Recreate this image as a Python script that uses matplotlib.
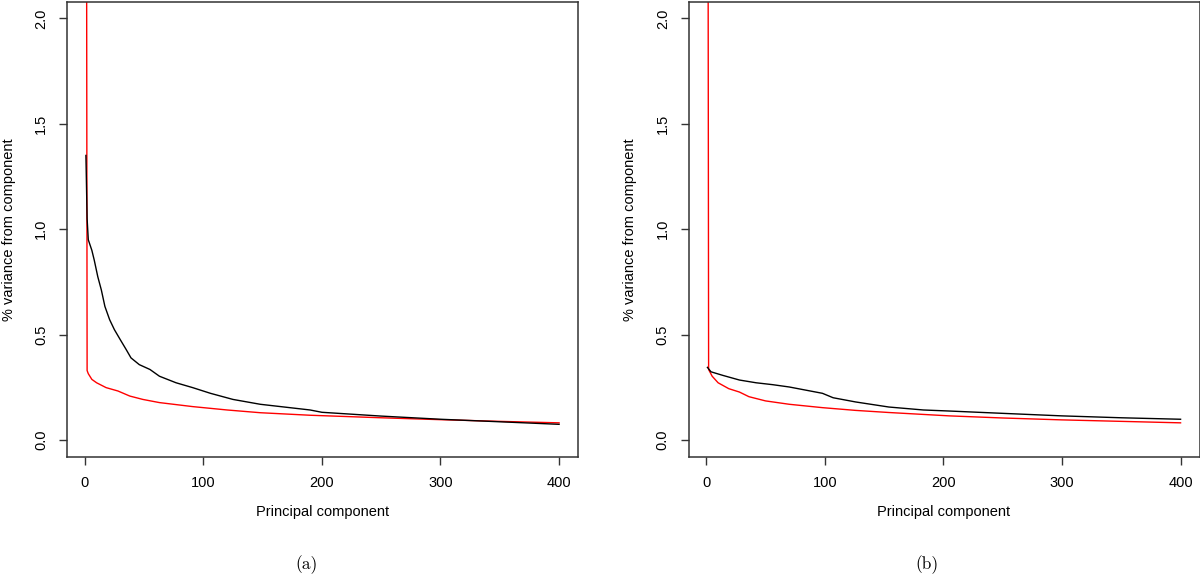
import matplotlib.pyplot as plt

# Panel (a): observed (black) and reference (red) variance per component
pc_a_black = [1, 2, 3, 6, 8, 11, 14, 17, 21, 25, 30, 35, 39, 46, 55, 63, 77, 91, 106,
              125, 148, 190, 200, 250, 300, 350, 400]
var_a_black = [1.35, 1.05, 0.95, 0.90, 0.854, 0.775, 0.712, 0.634, 0.571, 0.524, 0.476,
               0.429, 0.39, 0.358, 0.335, 0.303, 0.272, 0.249, 0.222, 0.193, 0.170,
               0.143, 0.132, 0.114, 0.099, 0.087, 0.075]
pc_a_red = [1, 2, 3, 6, 10, 18, 28, 38, 49, 63, 91, 120, 148, 190, 250, 300, 350, 400]
var_a_red = [5.0, 0.33, 0.315, 0.288, 0.272, 0.249, 0.233, 0.209, 0.193, 0.178, 0.159,
             0.143, 0.130, 0.118, 0.106, 0.097, 0.089, 0.082]

# Panel (b)
pc_b_black = [1, 4, 14, 28, 42, 56, 70, 84, 98, 107, 126, 154, 183, 205, 250, 300, 350, 400]
var_b_black = [0.345, 0.324, 0.307, 0.285, 0.272, 0.263, 0.252, 0.237, 0.222, 0.201,
               0.181, 0.157, 0.143, 0.138, 0.127, 0.115, 0.106, 0.099]
pc_b_red = [1, 2, 5, 10, 19, 28, 36, 50, 70, 98, 126, 154, 205, 250, 300, 350, 400]
var_b_red = [5.0, 0.335, 0.303, 0.272, 0.244, 0.228, 0.206, 0.186, 0.170, 0.154, 0.141,
             0.131, 0.115, 0.105, 0.096, 0.089, 0.082]

x_ticks = [0, 100, 200, 300, 400]
y_ticks = [0.0, 0.5, 1.0, 1.5, 2.0]
y_tick_labels = ["0.0", "0.5", "1.0", "1.5", "2.0"]
captions = ["(a)", "(b)"]

plt.rcParams['font.family'] = ['Liberation Sans', 'DejaVu Sans']

fig = plt.figure(figsize=(12, 5.74), dpi=100)
fig.set_facecolor('white')

panels = [
    (67 / 1200, pc_a_black, var_a_black, pc_a_red, var_a_red),
    (688.5 / 1200, pc_b_black, var_b_black, pc_b_red, var_b_red),
]
caption_x = [307 / 1200, 927 / 1200]

for i, (left, xb, yb, xr, yr) in enumerate(panels):
    ax = fig.add_axes([left, 117 / 574, 511 / 1200, 455.5 / 574])
    ax.plot(xr, yr, color='#ff0000', lw=1.0, solid_joinstyle='round')
    ax.plot(xb, yb, color='black', lw=1.0, solid_joinstyle='round')

    ax.set_xlim(-14.96, 415.96)
    ax.set_ylim(-0.08, 2.08)
    ax.set_xticks(x_ticks)
    ax.set_yticks(y_ticks)
    ax.set_yticklabels(y_tick_labels, rotation=90, va='center')

    for sp in ax.spines.values():
        sp.set_color('#333333')
        sp.set_linewidth(1.1)
    ax.tick_params(direction='out', length=5.5, width=1.0, color='#333333',
                   labelsize=10.5, labelcolor='black')
    ax.tick_params(axis='x', pad=8)
    ax.tick_params(axis='y', pad=8)

    ax.set_xlabel('Principal component', fontsize=10.5)
    ax.set_ylabel('% variance from component', fontsize=10.5)
    ax.xaxis.set_label_coords(0.5, -0.105)
    ax.yaxis.set_label_coords(-0.100, 0.5)

    fig.text(caption_x[i], 1 - 565 / 574, captions[i], ha='center', va='center',
             fontsize=12.5, family=['cmr10', 'DejaVu Serif'])

fig.savefig('out.png', dpi=100)
